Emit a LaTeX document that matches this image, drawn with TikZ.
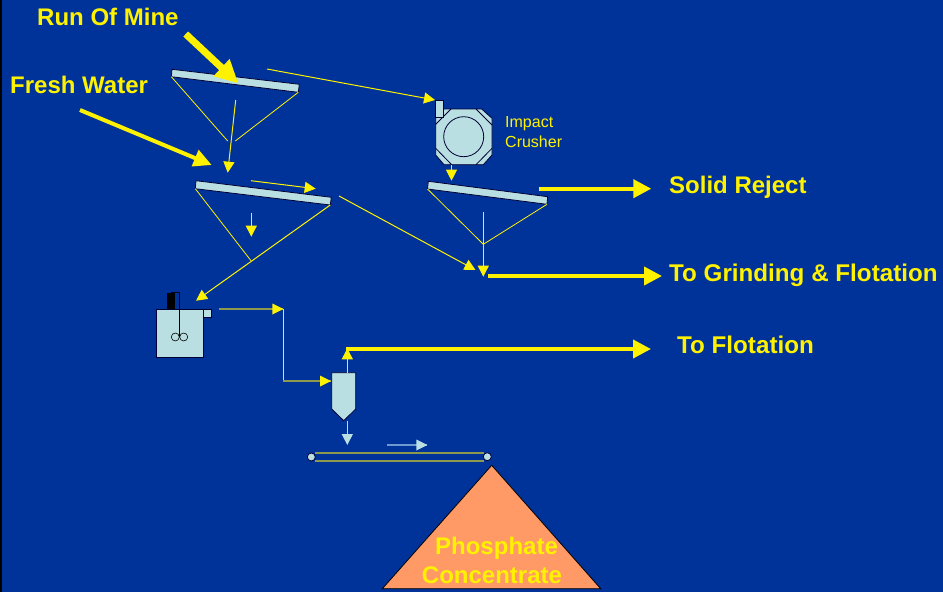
\documentclass[tikz,border=0pt]{standalone}
\usepackage{fontspec}
\setmainfont{Liberation Sans}
\usetikzlibrary{arrows.meta}
\definecolor{slidebg}{HTML}{003399}
\definecolor{equipfill}{HTML}{B9DFE2}
\definecolor{pilefill}{HTML}{FF9966}
\definecolor{beltcol}{HTML}{8C9A50}
\definecolor{dimblue}{HTML}{6F9AD0}
\tikzset{
  thin arrow/.style={draw=yellow,line width=1pt,-{Triangle[length=11pt,width=11pt]}},
  pale arrow/.style={draw=equipfill,line width=1pt,-{Triangle[length=11pt,width=11pt]}},
  fat arrow/.style={draw=yellow,line width=4pt,-{Triangle[length=18pt,width=18pt]}},
  big label/.style={text=yellow,font=\fontsize{24}{28}\selectfont\bfseries,inner sep=0pt},
  wide label/.style={big label,font=\fontsize{24.2}{28}\selectfont\bfseries},
  small label/.style={text=yellow,font=\fontsize{16}{19}\selectfont,inner sep=0pt,align=left},
  equip/.style={draw=black!80!blue,fill=equipfill,line width=.8pt},
  edge line/.style={draw=black!80!blue,line width=.8pt},
  chute/.style={draw=yellow,line width=.8pt},
  olive line/.style={draw=beltcol,line width=2pt}
}
\begin{document}
\begin{tikzpicture}[x=1pt,y=-1pt]
\useasboundingbox (0,0) rectangle (943,592);
\fill[slidebg] (0,0) rectangle (943,592);
\fill[black] (0,0) rectangle (2,592);
% screens
\coordinate (s1a) at (172,69.3); \coordinate (s1b) at (299.3,84.3);
\coordinate (s1c) at (298.3,92.3); \coordinate (s1d) at (171.3,76.7);
\coordinate (s2a) at (196,180.7); \coordinate (s2b) at (331.3,197.3);
\coordinate (s2c) at (330.3,205); \coordinate (s2d) at (195.3,188.7);
\coordinate (s3a) at (428.3,181.3); \coordinate (s3b) at (547.7,196.7);
\coordinate (s3c) at (547,204.3); \coordinate (s3d) at (427.5,189);
\draw[equip] (s1a) -- (s1b) -- (s1c) -- (s1d) -- cycle;
\draw[equip] (s2a) -- (s2b) -- (s2c) -- (s2d) -- cycle;
\draw[equip] (s3a) -- (s3b) -- (s3c) -- (s3d) -- cycle;
% undersize chutes
\coordinate (c1l) at (227.7,141); \coordinate (c1r) at (235.3,141);
\coordinate (c2m) at (251,260.7); \coordinate (c3m) at (483.3,244.3);
\draw[chute] (s1d) -- (c1l); \draw[chute] (s1c) -- (c1r);
\draw[chute] (s2d) -- (c2m);
\draw[chute] (s3d) -- (c3m) -- (s3c);
% crusher
\draw[equip] (444,109) -- (481.7,109) -- (492,118.3) -- (492,155) -- (483.3,164.7) -- (444,164.7) -- (435.7,155) -- (435.7,118) -- cycle;
\foreach \px/\py/\qx/\qy in {435.7/124.3/451/109, 476/109/492/125, 435.7/148.3/451.7/164.7, 476/164.7/492/148.3}
  \draw[edge line] (\px,\py) -- (\qx,\qy);
\node[equip,minimum width=7.6pt,minimum height=16.3pt,inner sep=0pt] (feedbox) at (439.5,108.9) {};
\node[circle,edge line,fill=equipfill,minimum size=40pt,inner sep=0pt] (rotor) at (463.7,136.7) {};
% tank
\fill[black] (167.3,293.3) rectangle (175,308.7);
\draw[black!90!blue,line width=.8pt] (171.3,308.7) -- (171.3,292.7) -- (179.5,292.7) -- (179.5,308.7);
\node[equip,anchor=north west,minimum width=47.6pt,minimum height=48.6pt,inner sep=0pt] (tank) at (155.7,308.7) {};
\node[equip,anchor=north west,minimum width=8pt,minimum height=8.3pt,inner sep=0pt] (spout) at (203.3,308.7) {};
\draw[black,line width=.8pt] (179.5,308.7) -- (179.5,337);
\node[circle,draw=black,line width=.6pt,minimum size=8pt,inner sep=0pt] (blade1) at (175.3,337) {};
\node[circle,draw=black,line width=.6pt,minimum size=8pt,inner sep=0pt] (blade2) at (183.7,337) {};
% hopper
\draw[equip] (331.7,372.7) -- (355.7,372.7) -- (355.7,409) -- (343.7,420.7) -- (331.7,409) -- cycle;
% belt
\node[circle,equip,minimum size=8pt,inner sep=0pt] (pulleyl) at (311.3,457) {};
\node[circle,equip,minimum size=8pt,inner sep=0pt] (pulleyr) at (487.3,456.7) {};
\draw[olive line] (pulleyl.center) ++(3.7,-4) -- (484,453);
\draw[olive line] (pulleyl.center) ++(3.7,4) -- (484,461);
% pile
\draw[fill=pilefill,draw=black,line width=.8pt] (491.7,465.3) -- (600.7,588.7) -- (382.3,588.7) -- cycle;
% thin flows
\coordinate (a1) at (267,69); \coordinate (a2) at (435,100);
\coordinate (a3) at (235.7,100); \coordinate (a4) at (227.7,172.7);
\coordinate (a5) at (251,180.7); \coordinate (a6) at (315.7,188.7);
\coordinate (a7) at (251.3,212.7); \coordinate (a8) at (251.3,236.7);
\coordinate (a9) at (196,300.7);
\coordinate (a10) at (339,196); \coordinate (a11) at (475.5,270);
\coordinate (a12) at (483.3,212.3); \coordinate (a13) at (483.3,276.7);
\coordinate (a14) at (451.5,165); \coordinate (a15) at (451.5,180.7);
\coordinate (a16) at (219,309); \coordinate (a17) at (283.3,309);
\coordinate (a18) at (283.3,381); \coordinate (a19) at (331,381);
\draw[thin arrow] (a1) -- (a2);
\draw[thin arrow] (a3) -- (a4);
\draw[thin arrow] (a5) -- (a6);
\draw[thin arrow] (a7) -- (a8);
\draw[thin arrow] (s2c) -- (a9);
\draw[thin arrow] (a10) -- (a11);
\draw[thin arrow] (a12) -- (a13);
\draw[thin arrow] (a14) -- (a15);
\draw[olive line] (a16) -- (a17);
\draw[fill=yellow,draw=none] (a17) -- ++(-11,-5.5) -- ++(0,11) -- cycle;
\draw[chute] (a17) -- (a18);
\draw[olive line] (a18) -- (a19);
\draw[fill=yellow,draw=none] (a19) -- ++(-11,-5.5) -- ++(0,11) -- cycle;
\coordinate (b1) at (347.3,420.7); \coordinate (b2) at (347.3,445);
\coordinate (b3) at (387.3,445); \coordinate (b4) at (427.3,445);
\draw[pale arrow] (b1) -- (b2);
\draw[draw=dimblue,line width=2pt] (b3) -- (b4);
\draw[fill=equipfill,draw=none] (b4) -- ++(-11,-5.5) -- ++(0,11) -- cycle;
% main streams
\coordinate (f1) at (185.7,34); \coordinate (f2) at (238.3,83.3);
\coordinate (f3) at (80,110); \coordinate (f4) at (211.7,165);
\coordinate (f5) at (539.3,188.7); \coordinate (f6) at (651.3,188.7);
\coordinate (f7) at (488,276); \coordinate (f8) at (662,276);
\coordinate (f9) at (347.3,372.7); \coordinate (f10) at (347.3,348.3);
\coordinate (f11) at (346,349); \coordinate (f12) at (651,349);
\draw[draw=yellow,line width=7pt,-{Triangle[length=23pt,width=22pt]}] (f1) -- (f2);
\draw[draw=yellow,line width=4pt,-{Triangle[length=18pt,width=17pt]}] (f3) -- (f4);
\draw[fat arrow] (f5) -- (f6);
\draw[fat arrow] (f7) -- (f8);
\draw[thin arrow] (f9) -- (f10);
\draw[fat arrow] (f11) -- (f12);
% labels
\node[big label,anchor=base west] (rom) at (37,25) {Run Of Mine};
\node[big label,anchor=base west] (water) at (10,93) {Fresh Water};
\node[big label,anchor=base west] (reject) at (669,193) {Solid Reject};
\node[wide label,anchor=base west] (grind) at (669,281) {To Grinding \& Flotation};
\node[wide label,anchor=base west] (flot) at (677,353) {To Flotation};
\node[big label,anchor=base] (phos) at (496.5,554) {Phosphate};
\node[big label,anchor=base] (conc) at (492,583) {Concentrate};
\node[small label,anchor=base west] (impact) at (505,127) {Impact};
\node[small label,anchor=base west] (crusher) at (505,147) {Crusher};
\end{tikzpicture}
\end{document}
